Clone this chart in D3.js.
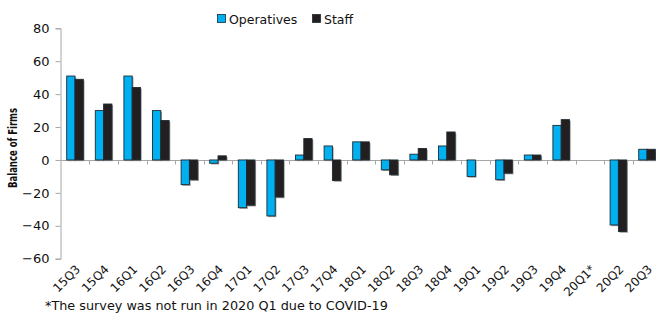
<!DOCTYPE html>
<html>
<head>
<meta charset="utf-8">
<script src="https://cdn.jsdelivr.net/npm/d3@7"></script>
<style>
  body { margin: 0; background: #fff; }
  text { font-family: "DejaVu Sans", sans-serif; fill: #111; }
</style>
</head>
<body>
<script>
const quarters = ["15Q3","15Q4","16Q1","16Q2","16Q3","16Q4","17Q1","17Q2","17Q3","17Q4",
  "18Q1","18Q2","18Q3","18Q4","19Q1","19Q2","19Q3","19Q4","20Q1*","20Q2","20Q3"];
const operatives = [51,30,51,30,-15,-2,-29,-34,3,8.5,11,-6,3.5,8.5,-10,-12,3,21,null,-39.5,6.5];
const staff = [49,34,44,24,-12,2.5,-27.5,-22.5,13,-12.5,11,-9,7,17,0,-8,3,24.5,null,-43.5,6.5];
const series = ["Operatives", "Staff"];
const colors = ["#00b0f0", "#231f20"];
const yTicks = [-60,-40,-20,0,20,40,60,80];

const width = 656, height = 313;
const svg = d3.select("body").append("svg").attr("width", width).attr("height", height);

const x0 = d3.scaleBand().domain(quarters).range([60.7, 661.3]).paddingInner(0).paddingOuter(0);
const x1 = d3.scaleBand().domain(series).range([6, 22.6]);
const y = d3.scaleLinear().domain([-60, 80]).range([258.7, 28.3]);

// y axis
const yAxis = svg.append("g")
  .attr("transform", "translate(60.5,0)")
  .call(d3.axisLeft(y).tickValues(yTicks).tickSize(5).tickPadding(6).tickFormat(d3.format("d")));
yAxis.select(".domain").attr("stroke", "#a6a6a6");
yAxis.selectAll(".tick line").attr("stroke", "#a6a6a6");
yAxis.selectAll("text").style("font-size", "13px").attr("fill", "#111");

// zero line with category ticks
const xAxis = svg.append("g")
  .attr("transform", `translate(0,${Math.round(y(0)) + 0.5})`);
xAxis.append("line").attr("x1", 60.5).attr("x2", width).attr("stroke", "#a6a6a6");
xAxis.selectAll(".cat-tick").data(quarters.slice(1)).join("line")
  .attr("x1", d => Math.round(x0(d)) + 0.5).attr("x2", d => Math.round(x0(d)) + 0.5)
  .attr("y1", 0).attr("y2", 4).attr("stroke", "#a6a6a6");

// bars
const rows = quarters.map((q, i) => ({ q, vals: [operatives[i], staff[i]] }));
const groups = svg.append("g").selectAll("g").data(rows).join("g")
  .attr("transform", d => `translate(${x0(d.q)},0)`);

const barData = d => d.vals.map((v, j) => ({ key: series[j], v, j })).filter(b => b.v !== null && b.v !== 0);

groups.selectAll("rect.shadow").data(barData).join("rect")
  .attr("class", "shadow")
  .attr("x", b => x1(b.key) + 1.2)
  .attr("y", b => Math.min(y(b.v), y(0)) + 1.2)
  .attr("width", x1.bandwidth())
  .attr("height", b => Math.abs(y(b.v) - y(0)))
  .attr("fill", "#9a9a9a");

groups.selectAll("rect.bar").data(barData).join("rect")
  .attr("class", "bar")
  .attr("x", b => x1(b.key))
  .attr("y", b => Math.min(y(b.v), y(0)))
  .attr("width", x1.bandwidth())
  .attr("height", b => Math.abs(y(b.v) - y(0)))
  .attr("fill", b => colors[b.j])
  .attr("stroke", "#1d2b33")
  .attr("stroke-width", 0.9);

// x labels
svg.append("g").selectAll("text").data(quarters).join("text")
  .attr("transform", d => `translate(${x0(d) + x0.bandwidth() / 2 + 6},270) rotate(-45)`)
  .attr("text-anchor", "end")
  .style("font-size", "12px")
  .text(d => d);

// y title
svg.append("text")
  .attr("transform", "translate(17,148) rotate(-90)")
  .attr("text-anchor", "middle")
  .style("font-size", "11.5px")
  .style("font-weight", "bold")
  .attr("textLength", 80)
  .attr("lengthAdjust", "spacingAndGlyphs")
  .text("Balance of Firms");

// legend
const legend = svg.append("g").attr("transform", "translate(217,14)");
const legX = [0, 95];
series.forEach((s, j) => {
  const g = legend.append("g").attr("transform", `translate(${legX[j]},0)`);
  g.append("rect").attr("x", 0.5).attr("y", 0.5).attr("width", 8).attr("height", 8)
    .attr("fill", colors[j]).attr("stroke", "#1d2b33").attr("stroke-width", 0.8);
  g.append("text").attr("x", 12).attr("y", 9.5).style("font-size", "12.5px").text(s);
});

// footnote
svg.append("text").attr("x", 45).attr("y", 310).style("font-size", "12.8px")
  .text("*The survey was not run in 2020 Q1 due to COVID-19");
</script>
</body>
</html>
